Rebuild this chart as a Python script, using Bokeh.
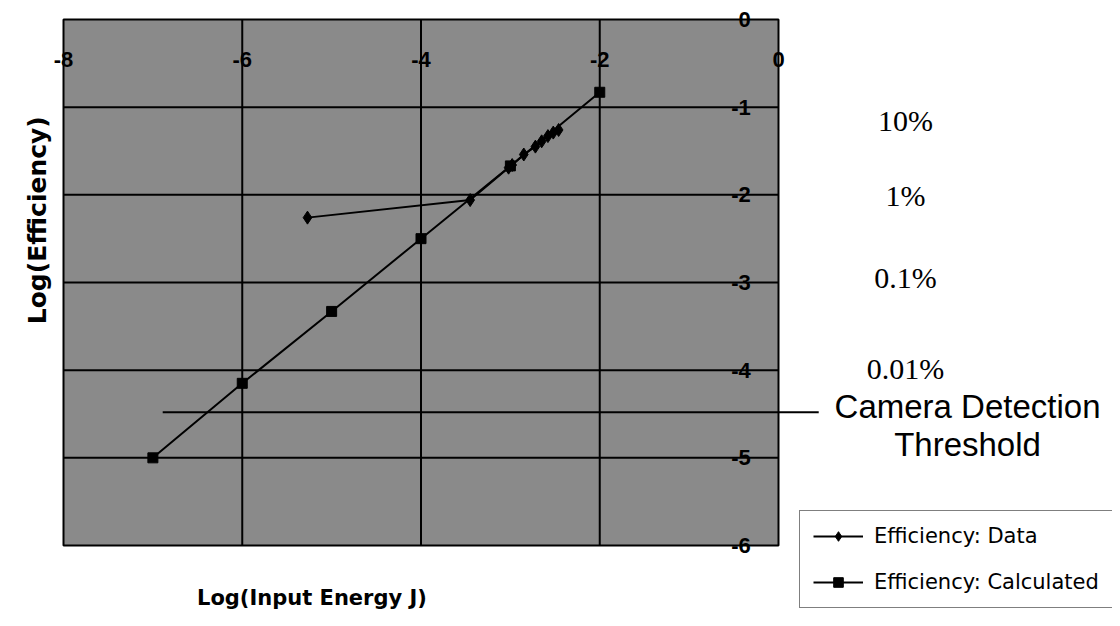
from bokeh.plotting import figure
from bokeh.models import Range1d, Legend, LegendItem
from bokeh.core.properties import value
from bokeh.embed import file_html
from bokeh.resources import INLINE

# ---- data ----
data_x = [-5.27, -3.45, -3.02, -2.98, -2.85, -2.72, -2.65, -2.58, -2.52, -2.46]
data_y = [-2.26, -2.06, -1.69, -1.66, -1.54, -1.45, -1.39, -1.33, -1.29, -1.26]
calc_x = [-7, -6, -5, -4, -3, -2]
calc_y = [-5.0, -4.15, -3.33, -2.50, -1.67, -0.83]
x_ticks = [-8, -6, -4, -2, 0]
x_tick_labels = ["-8", "-6", "-4", "-2", "0"]
y_ticks = [0, -1, -2, -3, -4, -5, -6]
y_tick_labels = ["0", "-1", "-2", "-3", "-4", "-5", "-6"]
pct_labels = ["10%", "1%", "0.1%", "0.01%"]
pct_y = [-1.15, -2.01, -2.94, -3.98]
threshold_y = -4.48
threshold_x = [-6.89, 0.45]

W, H = 1112, 618
# frame == whole canvas; map plot box (-8..0, -6..0) to pixel box
px_per_x = 715 / 8.0
px_per_y = 526 / 6.0
x0 = -8 - 63 / px_per_x
x1 = 0 + (W - 778) / px_per_x
y1 = 0 + 19 / px_per_y
y0 = -6 - (H - 545) / px_per_y

p = figure(width=W, height=H, x_range=Range1d(x0, x1), y_range=Range1d(y0, y1),
           x_axis_type=None, y_axis_type=None, toolbar_location=None,
           output_backend="svg", min_border=0)
p.outline_line_color = None
p.background_fill_color = "white"
p.grid.visible = False

# plot area
p.quad(left=[x_ticks[0]], right=[x_ticks[-1]], bottom=[y_ticks[-1]], top=[y_ticks[0]],
       fill_color="#8a8a8a", line_color="black", line_width=2)

# grid lines
inner_x = x_ticks[1:-1]
p.segment(x0=inner_x, x1=inner_x, y0=[y_ticks[-1]] * len(inner_x), y1=[y_ticks[0]] * len(inner_x),
          line_color="black", line_width=2)
inner_y = y_ticks[1:-1]
p.segment(x0=[x_ticks[0]] * len(inner_y), x1=[x_ticks[-1]] * len(inner_y), y0=inner_y, y1=inner_y,
          line_color="black", line_width=2)

# camera threshold line
p.line(x=threshold_x, y=[threshold_y, threshold_y], line_color="black", line_width=2)

# series
r_dl = p.line(data_x, data_y, line_color="black", line_width=2)
r_ds = p.scatter(data_x, data_y, marker="diamond", size=13, fill_color="black", line_color="black")
r_cl = p.line(calc_x, calc_y, line_color="black", line_width=2)
r_cs = p.scatter(calc_x, calc_y, marker="square", size=10, fill_color="black", line_color="black")

bold = dict(text_font=value("Liberation Sans"), text_font_style="bold", text_color="black")
title_font = dict(text_font=value("DejaVu Sans"), text_font_style="bold", text_color="black")

# x tick labels (inside, near top)
p.text(x=x_ticks, y=[-0.46] * len(x_ticks), text=x_tick_labels, text_align="center",
       text_baseline="middle", text_font_size="22px", **bold)
# y tick labels (inside, near right)
p.text(x=[-0.31] * len(y_ticks), y=y_ticks, text=y_tick_labels, text_align="right",
       text_baseline="middle", text_font_size="22px", **bold)

# axis titles
p.text(x=[-5.22], y=[-6.6], text=["Log(Input Energy J)"], text_align="center",
       text_baseline="middle", text_font_size="21px", **title_font)
p.text(x=[-8.29], y=[-2.29], text=["Log(Efficiency)"], text_align="center",
       text_baseline="middle", angle=1.5708, text_font_size="25px", **title_font)

# percentage annotations
p.text(x=[1.42] * len(pct_labels), y=pct_y, text=pct_labels, text_align="center",
       text_baseline="middle", text_font=value("Liberation Serif"), text_font_size="30px",
       text_color="black")

# camera detection threshold text
p.text(x=[2.115, 2.115], y=[-4.41, -4.85], text=["Camera Detection", "Threshold"],
       text_align="center", text_baseline="middle", text_font=value("Liberation Sans"),
       text_font_size="33px", text_color="black")

legend = Legend(items=[LegendItem(label="Efficiency: Data", renderers=[r_dl, r_ds]),
                       LegendItem(label="Efficiency: Calculated", renderers=[r_cl, r_cs])],
                location=(799, 10), orientation="vertical",
                padding=13, spacing=22, margin=0, glyph_width=50, glyph_height=24,
                label_height=24, label_width=330, label_standoff=11,
                label_text_font="DejaVu Sans", label_text_font_size="21px",
                label_text_color="black",
                border_line_color="black", border_line_width=1.5,
                background_fill_color="white", background_fill_alpha=1.0)
p.add_layout(legend, "center")

open("out.html", "w").write(file_html(p, INLINE))
